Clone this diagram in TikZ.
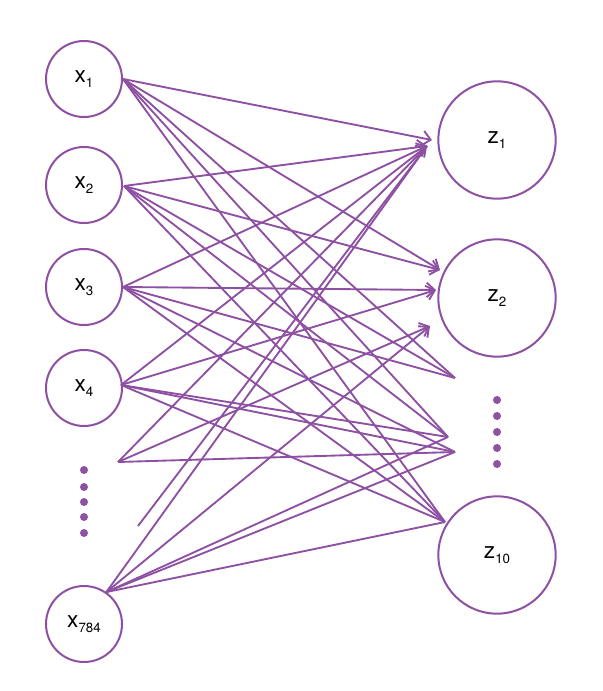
\documentclass[tikz,border=0pt]{standalone}
\usepackage{fontspec}
\setmainfont{TeX Gyre Heros}
\usetikzlibrary{arrows.meta}
\definecolor{nnpurple}{RGB}{142,80,162}
\newcommand{\nlab}[2]{\fontsize{17}{17}\selectfont #1\raisebox{-3.5pt}{\fontsize{10}{10}\selectfont #2}}
\begin{document}
\begin{tikzpicture}[x=0.75pt,y=-0.75pt,
  neuron/.style={circle,draw=nnpurple,line width=1.5pt,minimum size=57pt,inner sep=0pt},
  bigneuron/.style={neuron,minimum size=88pt},
  conn/.style={draw=nnpurple,line width=1.4pt},
  arr/.style={conn,-{Straight Barb[length=6pt,width=11pt,line width=1.4pt]}},
  pdot/.style={circle,fill=nnpurple,inner sep=0pt,minimum size=6pt}]
\useasboundingbox (0,0) rectangle (602,691);
% input neurons
\node[neuron] (x1) at (84,79) {\nlab{x}{1}};
\node[neuron] (x2) at (84,185) {\nlab{x}{2}};
\node[neuron] (x3) at (84,287) {\nlab{x}{3}};
\node[neuron] (x4) at (84,388) {\nlab{x}{4}};
\node[neuron] (x784) at (84,624) {\nlab{x}{784}};
% output neurons
\node[bigneuron] (z1) at (497,140) {\nlab{z}{1}};
\node[bigneuron] (z2) at (497,298) {\nlab{z}{2}};
\node[bigneuron] (z10) at (497,555) {\nlab{z}{10}};
% dots
\foreach \i/\y in {1/470,2/487,3/502,4/517,5/533} \node[pdot] (ld\i) at (84,\y) {};
\foreach \i/\y in {1/400,2/416,3/432,4/448,5/464} \node[pdot] (rd\i) at (497,\y) {};
% connector ends
\coordinate (s1) at (x1.east);
\coordinate (s2) at (124,186);
\coordinate (s3) at (x3.east);
\coordinate (s4) at (121,385);
\coordinate (sd1) at (118,462);
\coordinate (sd2) at (138,526);
\coordinate (s7) at (x784.55);
\coordinate (t1) at (432,140);
\coordinate (t1b) at (427,146);
\coordinate (t2a) at (440,270);
\coordinate (t2b) at (436,290);
\coordinate (t2c) at (430,326);
\coordinate (td1) at (455,378);
\coordinate (td2) at (448,437);
\coordinate (td3) at (455,452);
\coordinate (t10) at (445,522);
% x1
\draw[arr] (s1) -- (t1);
\draw[arr] (s1) -- (t2a);
\draw[conn] (s1) -- (td1);
\draw[conn] (s1) -- (td2);
\draw[conn] (s1) -- (t10);
% x2
\draw[arr] (s2) -- (t1b);
\draw[arr] (s2) -- (t2a);
\draw[conn] (s2) -- (td1);
\draw[conn] (s2) -- (td2);
\draw[conn] (s2) -- (t10);
% x3
\draw[arr] (s3) -- (t1b);
\draw[arr] (s3) -- (t2b);
\draw[conn] (s3) -- (td1);
\draw[conn] (s3) -- (td3);
\draw[conn] (s3) -- (t10);
% x4
\draw[arr] (s4) -- (t1b);
\draw[arr] (s4) -- (t2b);
\draw[conn] (s4) -- (td2);
\draw[conn] (s4) -- (td3);
\draw[conn] (s4) -- (t10);
% dots row
\draw[conn] (sd1) -- (t1b);
\draw[arr] (sd1) -- (t2c);
\draw[conn] (sd1) -- (td3);
\draw[conn] (sd2) -- (t1b);
% x784
\draw[conn] (s7) -- (t1b);
\draw[arr] (s7) -- (t2c);
\draw[conn] (s7) -- (td2);
\draw[conn] (s7) -- (td3);
\draw[conn] (s7) -- (t10);
\end{tikzpicture}
\end{document}
